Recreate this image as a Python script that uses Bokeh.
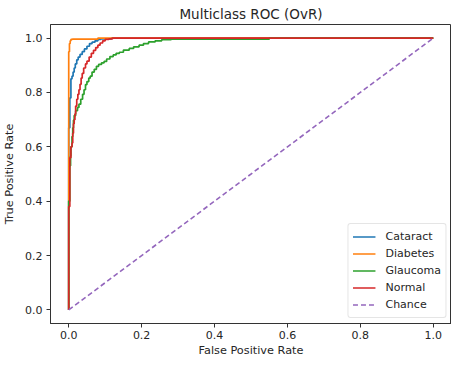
from bokeh.plotting import figure
from bokeh.models import FixedTicker, ColumnDataSource
from bokeh.embed import file_html
from bokeh.resources import INLINE

# ---- data ----
class_names = ["Cataract", "Diabetes", "Glaucoma", "Normal"]
class_colors = ["#1f77b4", "#ff7f0e", "#2ca02c", "#d62728"]

cataract_fpr = [0.0, 0.003, 0.006, 0.009, 0.012, 0.015, 0.018, 0.022, 0.026, 0.031,
                0.037, 0.043, 0.050, 0.057, 0.064, 0.072, 0.080, 0.088, 0.100, 0.117, 1.0]
cataract_tpr = [0.0, 0.67, 0.78, 0.85, 0.86, 0.875, 0.89, 0.905, 0.92, 0.93,
                0.94, 0.95, 0.96, 0.97, 0.98, 0.985, 0.99, 0.995, 0.997, 0.997, 1.0]

diabetes_fpr = [0.0, 0.002, 0.004, 0.006, 0.010, 0.080, 1.0]
diabetes_tpr = [0.0, 0.95, 0.98, 0.99, 0.995, 0.996, 1.0]

glaucoma_fpr = [0.0, 0.003, 0.005, 0.006, 0.009, 0.011, 0.013, 0.015, 0.019, 0.024,
                0.028, 0.033, 0.038, 0.042, 0.046, 0.050, 0.055, 0.059, 0.064, 0.070,
                0.076, 0.082, 0.090, 0.097, 0.104, 0.113, 0.122, 0.130, 0.139, 0.150,
                0.166, 0.178, 0.193, 0.205, 0.219, 0.237, 0.255, 0.281, 0.321, 0.550, 1.0]
glaucoma_tpr = [0.0, 0.40, 0.53, 0.566, 0.60, 0.638, 0.67, 0.698, 0.715, 0.733,
                0.745, 0.757, 0.775, 0.793, 0.81, 0.829, 0.84, 0.853, 0.86, 0.875,
                0.885, 0.896, 0.903, 0.909, 0.914, 0.923, 0.932, 0.938, 0.944, 0.948,
                0.956, 0.962, 0.968, 0.974, 0.98, 0.986, 0.99, 0.994, 0.996, 0.996, 1.0]

normal_fpr = [0.0, 0.003, 0.006, 0.009, 0.011, 0.013, 0.015, 0.017, 0.019, 0.022,
              0.025, 0.028, 0.031, 0.034, 0.037, 0.041, 0.046, 0.050, 0.056, 0.062,
              0.068, 0.074, 0.080, 0.086, 0.093, 0.100, 0.110, 0.120, 0.130, 1.0]
normal_tpr = [0.0, 0.38, 0.56, 0.60, 0.614, 0.65, 0.685, 0.70, 0.721, 0.75,
              0.775, 0.793, 0.81, 0.83, 0.853, 0.87, 0.89, 0.905, 0.915, 0.93,
              0.944, 0.955, 0.965, 0.974, 0.982, 0.99, 0.995, 0.997, 1.0, 1.0]

chance_x = [0.0, 1.0]
chance_y = [0.0, 1.0]

axis_ticks = [0.0, 0.2, 0.4, 0.6, 0.8, 1.0]
axis_tick_labels = ["0.0", "0.2", "0.4", "0.6", "0.8", "1.0"]

curves = [
    (cataract_fpr, cataract_tpr),
    (diabetes_fpr, diabetes_tpr),
    (glaucoma_fpr, glaucoma_tpr),
    (normal_fpr, normal_tpr),
]

FONT = "DejaVu Sans"
TXT = "#262626"

p = figure(width=451, height=359, output_backend="svg", toolbar_location=None,
           x_range=(-0.05, 1.05), y_range=(-0.05, 1.05),
           title="Multiclass ROC (OvR)",
           min_border_left=49, min_border_right=0, min_border_top=24, min_border_bottom=0)

p.title.align = "center"
p.title.text_font = FONT
p.title.text_font_size = "13.5px"
p.title.text_font_style = "normal"
p.title.text_color = TXT
p.title.standoff = 5
p.title.offset = 0

for (fx, ty), name, col in zip(curves, class_names, class_colors):
    src = ColumnDataSource(dict(x=fx, y=ty))
    p.step("x", "y", source=src, mode="before", line_color=col, line_width=1.7,
           legend_label=name)

p.line(chance_x, chance_y, line_color="#9467bd", line_width=1.6, line_dash="5 3",
       legend_label="Chance")

p.xgrid.visible = False
p.ygrid.visible = False
p.outline_line_color = "#333333"
p.outline_line_width = 1
p.background_fill_color = "white"
p.border_fill_color = "white"

for ax in (p.xaxis[0], p.yaxis[0]):
    ax.ticker = FixedTicker(ticks=axis_ticks)
    ax.major_label_overrides = {t: l for t, l in zip(axis_ticks, axis_tick_labels)}
    ax.minor_tick_line_color = None
    ax.major_tick_in = 0
    ax.major_tick_out = 4
    ax.major_tick_line_color = "#333333"
    ax.axis_line_color = "#333333"
    ax.major_label_text_font = FONT
    ax.major_label_text_font_size = "11px"
    ax.major_label_text_color = TXT
    ax.axis_label_text_font = FONT
    ax.axis_label_text_font_size = "11.3px"
    ax.axis_label_text_font_style = "normal"
    ax.axis_label_text_color = TXT

p.xaxis.major_label_standoff = 3
p.xaxis.axis_label_standoff = 2
p.yaxis.major_label_standoff = 4
p.yaxis.axis_label_standoff = 6

p.xaxis.axis_label = "False Positive Rate"
p.yaxis.axis_label = "True Positive Rate"

lg = p.legend[0]
lg.location = "bottom_right"
lg.margin = 5
lg.padding = 4
lg.spacing = 0
lg.label_height = 17
lg.glyph_height = 17
lg.glyph_width = 23
lg.label_standoff = 10
lg.label_text_font = FONT
lg.label_text_font_size = "11px"
lg.label_text_color = TXT
lg.border_line_color = "#cccccc"
lg.border_line_width = 1
lg.background_fill_color = "white"
lg.background_fill_alpha = 0.8
try:
    lg.border_radius = 3
except Exception:
    pass

open("out.html", "w").write(file_html(p, INLINE))
